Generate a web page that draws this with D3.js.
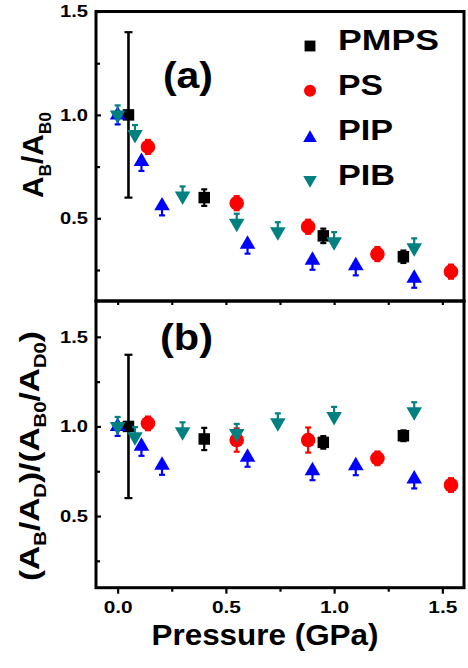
<!DOCTYPE html>
<html><head><meta charset="utf-8">
<script src="https://cdn.jsdelivr.net/npm/d3@7/dist/d3.min.js"></script>
<style>
html,body{margin:0;padding:0;background:#fff;}
svg{display:block;font-family:"Liberation Sans",Arial,sans-serif;font-weight:bold;}
</style></head><body>
<svg id="chart" width="468" height="668"></svg>
<script>
// Pressure (GPa) of each measurement, per sample
const pmpsP = [0.05, 0.40, 0.95, 1.32];
const psP   = [0.14, 0.55, 0.88, 1.20, 1.54];
const pipP  = [0.00, 0.11, 0.205, 0.60, 0.90, 1.10, 1.37];
const pibP  = [0.00, 0.08, 0.30, 0.55, 0.74, 1.00, 1.37];

// Panel (a): A_B / A_B0
const pmpsA    = [1.00, 0.60, 0.415, 0.314];
const pmpsAErr = [0.40, 0.04, 0.035, 0.03];
const psA      = [0.845, 0.573, 0.459, 0.327, 0.242];
const psAErr   = [0.034, 0.034, 0.034, 0.034, 0.034];
const pipA     = [1.00, 0.775, 0.56, 0.375, 0.297, 0.27, 0.21];
const pipAErr  = [0.046, 0.046, 0.046, 0.046, 0.046, 0.046, 0.046];
const pibA     = [1.00, 0.905, 0.608, 0.476, 0.435, 0.387, 0.357];
const pibAErr  = [0.046, 0.046, 0.046, 0.046, 0.046, 0.046, 0.046];

// Panel (b): (A_B/A_D) / (A_B0/A_D0)
const pmpsB    = [1.00, 0.93, 0.911, 0.948];
const pmpsBErr = [0.40, 0.062, 0.035, 0.03];
const psB      = [1.017, 0.924, 0.924, 0.822, 0.673];
const psBErr   = [0.038, 0.065, 0.07, 0.038, 0.038];
const pipB     = [1.00, 0.889, 0.783, 0.828, 0.753, 0.781, 0.707];
const pipBErr  = [0.053, 0.053, 0.053, 0.053, 0.053, 0.053, 0.053];
const pibB     = [1.00, 0.943, 0.97, 0.961, 1.02, 1.056, 1.082];
const pibBErr  = [0.053, 0.053, 0.053, 0.053, 0.053, 0.053, 0.053];

const seriesNames = ["PMPS", "PS", "PIP", "PIB"];
const seriesColors = ["#000000", "#ff0000", "#0000ff", "#008080"];
// which side of each point the error bar is drawn on
const errSides = [["-", "+"], ["-", "+"], ["-"], ["+"]];

const xTicks = [0, 0.5, 1.0, 1.5];
const xMinor = [0.25, 0.75, 1.25];
const yTicks = [0.5, 1.0, 1.5];
const yMinor = [0.25, 0.75, 1.25];

const svg = d3.select("#chart");

const x = d3.scaleLinear().domain([-0.1, 1.6]).range([96, 464]);
const yA = d3.scaleLinear().domain([0.1, 1.5]).range([301, 11.5]);
const yB = d3.scaleLinear().domain([0.1, 1.7]).range([587.7, 301]);

const symbols = [
  {type: d3.symbolSquare, size: 132, rot: 0},
  {type: d3.symbolCircle, size: 167, rot: 0},
  {type: d3.symbolTriangle, size: 105, rot: 0},
  {type: d3.symbolTriangle, size: 105, rot: 180}
];

// widen a text element along its reading direction to a given length
function fitLength(sel, len) {
  sel.attr("textLength", len).attr("lengthAdjust", "spacingAndGlyphs");
}

function drawPanel(y, sets) {
  const g = svg.append("g");
  sets.forEach((s, i) => {
    const pts = s.p.map((p, j) => ({p, v: s.v[j], e: s.e[j]}));
    const col = seriesColors[i];
    const sides = errSides[i];
    const eb = g.append("g").attr("stroke", col).attr("fill", "none");
    pts.forEach(d => {
      const big = d.e > 0.2;
      const cw = big ? 4 : 3;
      const cx = x(d.p);
      const lo = sides.includes("-") ? d.v - d.e : d.v;
      const hi = sides.includes("+") ? d.v + d.e : d.v;
      eb.append("line").attr("x1", cx).attr("x2", cx)
        .attr("y1", y(lo)).attr("y2", y(hi))
        .attr("stroke-width", big ? 2.6 : 2.2);
      [lo, hi].filter(v => v !== d.v).forEach(v => {
        eb.append("line").attr("x1", cx - cw).attr("x2", cx + cw)
          .attr("y1", y(v)).attr("y2", y(v)).attr("stroke-width", 2.2);
      });
    });
    const sym = symbols[i];
    g.selectAll(null).data(pts).join("path")
      .attr("d", d3.symbol().type(sym.type).size(sym.size))
      .attr("transform", d => `translate(${x(d.p)},${y(d.v)}) rotate(${sym.rot})`)
      .attr("fill", col);
  });
}

function styleAxis(g) {
  g.select(".domain").remove();
  g.selectAll("line").attr("stroke", "#000").attr("stroke-width", 2.2);
}

// y axes (ticks pointing inward)
[yA, yB].forEach(y => {
  const ga = svg.append("g").attr("transform", "translate(96,0)")
    .call(d3.axisLeft(y).tickValues(yTicks).tickSize(-5).tickPadding(8).tickFormat(d3.format(".1f")));
  styleAxis(ga);
  ga.selectAll("text").attr("font-size", 17).attr("fill", "#000")
    .attr("font-family", "Liberation Sans, Arial, sans-serif").attr("font-weight", "bold")
    .each(function () { fitLength(d3.select(this), 28); });
  const gm = svg.append("g").attr("transform", "translate(96,0)")
    .call(d3.axisLeft(y).tickValues(yMinor).tickSize(-4).tickFormat(""));
  styleAxis(gm);
});

// bottom x axis (outward) and mirror ticks on top edge of panel (b)
const gx = svg.append("g").attr("transform", "translate(0,587.7)")
  .call(d3.axisBottom(x).tickValues(xTicks).tickSize(6).tickPadding(7.6).tickFormat(d3.format(".1f")));
styleAxis(gx);
gx.selectAll("text").attr("font-size", 17).attr("fill", "#000")
  .attr("font-family", "Liberation Sans, Arial, sans-serif").attr("font-weight", "bold")
  .each(function () { fitLength(d3.select(this), 29); });
const gxm = svg.append("g").attr("transform", "translate(0,587.7)")
  .call(d3.axisBottom(x).tickValues(xMinor).tickSize(4).tickFormat(""));
styleAxis(gxm);
const gxt = svg.append("g").attr("transform", "translate(0,301)")
  .call(d3.axisTop(x).tickValues(xTicks.concat(xMinor)).tickSize(-4).tickFormat(""));
styleAxis(gxt);

drawPanel(yA, [
  {p: pmpsP, v: pmpsA, e: pmpsAErr},
  {p: psP, v: psA, e: psAErr},
  {p: pipP, v: pipA, e: pipAErr},
  {p: pibP, v: pibA, e: pibAErr}
]);
drawPanel(yB, [
  {p: pmpsP, v: pmpsB, e: pmpsBErr},
  {p: psP, v: psB, e: psBErr},
  {p: pipP, v: pipB, e: pipBErr},
  {p: pibP, v: pibB, e: pibBErr}
]);

// panel frames
[yA, yB].forEach(y => {
  const [y0, y1] = y.range();
  svg.append("rect").attr("x", 96).attr("y", y1).attr("width", 464 - 96).attr("height", y0 - y1)
    .attr("fill", "none").attr("stroke", "#000").attr("stroke-width", 3);
});

// panel tags
const tagA = svg.append("text").attr("x", 188).attr("y", 88).attr("text-anchor", "middle")
  .attr("font-size", 36).text("(a)");
fitLength(tagA, 50);
const tagB = svg.append("text").attr("x", 186.5).attr("y", 350).attr("text-anchor", "middle")
  .attr("font-size", 36).text("(b)");
fitLength(tagB, 53);

// legend
const legY = [46, 90.7, 138, 180];
const legText = [50, 95, 140, 185];
const legSyms = [
  {type: d3.symbolSquare, size: 118, rot: 0},
  {type: d3.symbolCircle, size: 113, rot: 0},
  {type: d3.symbolTriangle, size: 80, rot: 0},
  {type: d3.symbolTriangle, size: 80, rot: 180}
];
const legLen = [101, 45, 55, 57];
seriesNames.forEach((n, i) => {
  svg.append("path").attr("d", d3.symbol().type(legSyms[i].type).size(legSyms[i].size))
    .attr("transform", `translate(310,${legY[i]}) rotate(${legSyms[i].rot})`)
    .attr("fill", seriesColors[i]);
  const t = svg.append("text").attr("x", 338).attr("y", legText[i]).attr("font-size", 30).text(n);
  fitLength(t, legLen[i]);
});

// x title
const xt = svg.append("text").attr("x", 265).attr("y", 645).attr("text-anchor", "middle")
  .attr("font-size", 30).text("Pressure (GPa)");
fitLength(xt, 227);

// y titles built from main text and subscript runs
function yTitle(cx, cy, parts, size, sub, shift, len) {
  const t = svg.append("text").attr("transform", `translate(${cx},${cy}) rotate(-90)`)
    .attr("text-anchor", "middle").attr("font-size", size);
  let down = false;
  parts.forEach(([s, isSub]) => {
    const ts = t.append("tspan").text(s);
    if (isSub && !down) { ts.attr("dy", shift).attr("font-size", sub); down = true; }
    else if (isSub) { ts.attr("font-size", sub); }
    else if (down) { ts.attr("dy", -shift); down = false; }
  });
  fitLength(t, len);
}
yTitle(43.3, 155, [["A", false], ["B", true], ["/A", false], ["B0", true]], 29, 17, 8, 86);
yTitle(38.5, 456, [["(A", false], ["B", true], ["/A", false], ["D", true], [")/(A", false],
  ["B0", true], ["/A", false], ["D0", true], [")", false]], 28, 17, 7, 250);
</script>
</body></html>
